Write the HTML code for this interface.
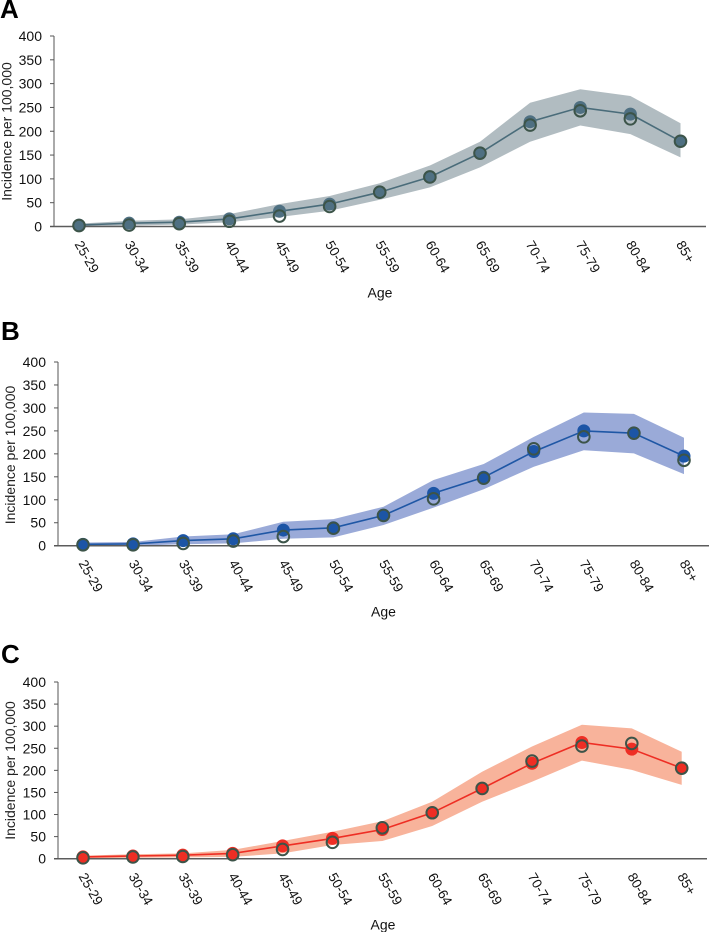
<!DOCTYPE html>
<html lang="en">
<head>
<meta charset="utf-8">
<title>Incidence per 100,000 by age</title>
<style>
html,body{margin:0;padding:0;background:#fff;width:709px;height:932px;overflow:hidden}
svg{display:block;font-family:"Liberation Sans",Arial,sans-serif}
</style>
</head>
<body>
<svg id="chart" xmlns="http://www.w3.org/2000/svg" width="709" height="932" viewBox="0 0 709 932"></svg>
<script>
const ageGroups = ["25-29","30-34","35-39","40-44","45-49","50-54","55-59","60-64","65-69","70-74","75-79","80-84","85+"];
const yTicks = [0,50,100,150,200,250,300,350,400];

const modelA = [3,7,9,16,32,47,72,104,154,220,250,236,179];
const observedA = [2,3,6,11,22,42,72,104,154,213,243,226,179];
const upperA = [6,12,15,26,47,64,91,128,178,260,288,274,217];
const lowerA = [0,2,4,9,20,33,56,82,124,178,212,194,145];

const modelB = [3,4,11,15,34,39,66,114,149,205,250,245,195];
const observedB = [2,2,5,10,20,38,66,102,147,211,237,245,186];
const upperB = [7,8,20,25,52,58,85,143,178,237,290,287,235];
const lowerB = [0,0,3,5,15,18,45,83,123,172,208,201,156];

const modelC = [4,6,8,12,29,46,66,104,159,216,263,248,205];
const observedC = [2,4,5,9,21,37,70,104,159,221,255,261,205];
const upperC = [7,10,12,20,40,61,85,129,197,254,303,295,242];
const lowerC = [1,2,3,4,12,31,40,74,129,174,222,201,167];

const NS = "http://www.w3.org/2000/svg";
const root = document.getElementById("chart");

function make(parent, tag, attrs, text) {
  const el = document.createElementNS(NS, tag);
  for (const k in attrs) el.setAttribute(k, attrs[k]);
  if (text !== undefined) el.textContent = text;
  parent.appendChild(el);
  return el;
}

function drawPanel(cfg) {
  const g = make(root, "g", {});
  
  
  const xScale = i => cfg.x0 + i * (cfg.x1 - cfg.x0) / (ageGroups.length - 1);
  const yScale = v => cfg.yZero - v * (cfg.yZero - cfg.yTop) / 400;

  const letter = make(g, "text", {x: cfg.letterX, y: cfg.letterY, "font-size": 26, "font-weight": "bold", fill: "#000"}, cfg.letter);
  
  

  const top = cfg.upper.map((v, i) => xScale(i).toFixed(1) + "," + yScale(v).toFixed(1));
  const bottom = cfg.lower.map((v, i) => xScale(i).toFixed(1) + "," + yScale(v).toFixed(1)).reverse();
  const band = make(g, "polygon", {points: top.concat(bottom).join(" "), fill: cfg.band});
  
  

  const yAxis = make(g, "line", {x1: cfg.axisX, x2: cfg.axisX, y1: cfg.yTop, y2: cfg.yZero, stroke: "#555", "stroke-width": 1});
  
  
  const xAxis = make(g, "line", {x1: cfg.axisX - 4, x2: cfg.axisEnd, y1: cfg.yZero, y2: cfg.yZero, stroke: "#5c5c5c", "stroke-width": 1.5});
  
  

  yTicks.forEach(t => {
    const y = yScale(t);
    const tick = make(g, "line", {x1: cfg.axisX - 4, x2: cfg.axisX, y1: y, y2: y, stroke: "#555", "stroke-width": 1});
    
    
    const label = make(g, "text", {x: cfg.axisX - 12, y: y + 5, "font-size": 14, "text-anchor": "end", fill: "#111"}, t);
    
    
  });

  const yTitle = make(g, "text", {x: 0, y: 0, "font-size": 14, "text-anchor": "middle", fill: "#222", transform: "translate(" + cfg.yTitleX + "," + cfg.yTitleCenter + ") rotate(-90)"}, "Incidence per 100,000");
  
  

  ageGroups.forEach((a, i) => {
    const lx = xScale(i) - 4.7;
    const ly = cfg.yZero + 17.6;
    const label = make(g, "text", {x: 0, y: 0, "font-size": 13.5, fill: "#111", transform: "translate(" + lx + "," + ly + ") rotate(60)"}, a);
    
    
  });

  const xTitle = make(g, "text", {x: cfg.ageX, y: cfg.yZero + 71, "font-size": 14, "text-anchor": "middle", fill: "#111"}, "Age");
  
  

  const line = make(g, "polyline", {points: cfg.model.map((v, i) => xScale(i).toFixed(1) + "," + yScale(v).toFixed(1)).join(" "), fill: "none", stroke: cfg.line, "stroke-width": 1.6});
  
  

  cfg.model.forEach((v, i) => {
    const dot = make(g, "circle", {cx: xScale(i), cy: yScale(v), r: 6.5, fill: cfg.dot});
    
    
  });
  cfg.observed.forEach((v, i) => {
    const ring = make(g, "circle", {cx: xScale(i), cy: yScale(v), r: 5.8, fill: "none", stroke: "#3c5449", "stroke-width": 2});
    
    
  });
}

drawPanel({letter:"A", letterX:0, letterY:18, x0:79, x1:680.5, axisX:54, axisEnd:706, yTop:36, yZero:226.5, yTitleX:11.5, yTitleCenter:131.5, ageX:380, band:"#b1bcc1", line:"#4a6c7a", dot:"#4f7082", model:modelA, observed:observedA, upper:upperA, lower:lowerA});
drawPanel({letter:"B", letterX:1, letterY:340, x0:83, x1:684, axisX:58, axisEnd:709, yTop:362, yZero:545.7, yTitleX:15, yTitleCenter:455, ageX:383.5, band:"#9aaad8", line:"#1f57a5", dot:"#1c55a6", model:modelB, observed:observedB, upper:upperB, lower:lowerB});
drawPanel({letter:"C", letterX:1, letterY:663, x0:83, x1:681.7, axisX:58, axisEnd:707, yTop:682, yZero:858.7, yTitleX:15, yTitleCenter:770.5, ageX:383, band:"#f8b39b", line:"#ee2e24", dot:"#ee2e24", model:modelC, observed:observedC, upper:upperC, lower:lowerC});
</script>
</body>
</html>
